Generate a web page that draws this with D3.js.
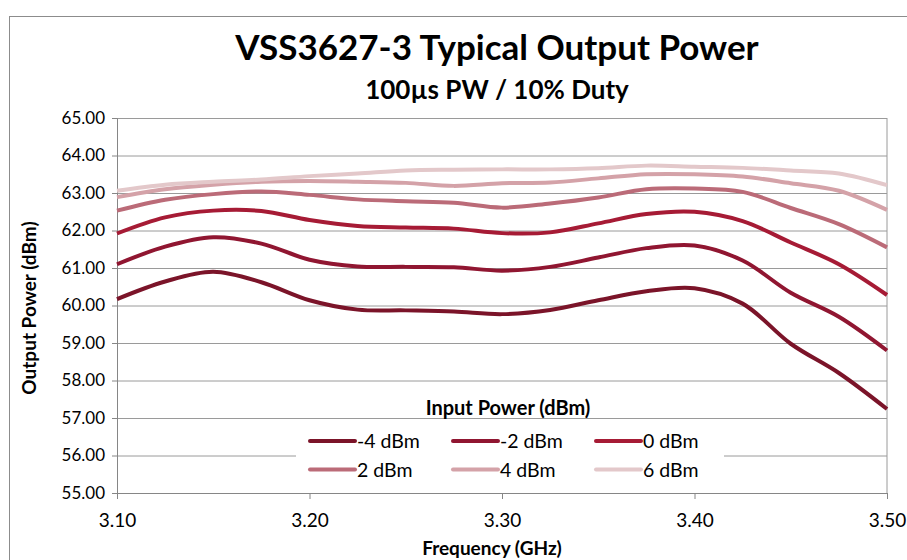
<!DOCTYPE html>
<html>
<head>
<meta charset="utf-8">
<script src="https://cdn.jsdelivr.net/npm/d3@7"></script>
<style>
  body { margin: 0; background: #fff; }
  svg { font-family: Lato, "Open Sans", sans-serif; }
</style>
</head>
<body>
<div id="chart"></div>
<script>
/* VSS3627-3 typical output power vs frequency, one line per input power */

const width = 907, height = 560,
    margin = ({ top: 118, right: 20, bottom: 67, left: 117 });

// data
const freqs = [3.100, 3.125, 3.150, 3.175, 3.200, 3.225, 3.250, 3.275, 3.300,
    3.325, 3.350, 3.375, 3.400, 3.425, 3.450, 3.475, 3.500];
const seriesNames = ["-4 dBm", "-2 dBm", "0 dBm", "2 dBm", "4 dBm", "6 dBm"];
const pinM4 = [60.17, 60.64, 60.90, 60.62, 60.14, 59.89, 59.87, 59.84, 59.77, 59.88, 60.14, 60.38, 60.46, 60.05, 58.98, 58.20, 57.24];
const pinM2 = [61.10, 61.57, 61.82, 61.65, 61.22, 61.04, 61.03, 61.02, 60.93, 61.03, 61.28, 61.53, 61.60, 61.20, 60.34, 59.70, 58.80];
const pin0  = [61.92, 62.35, 62.53, 62.52, 62.28, 62.12, 62.08, 62.05, 61.93, 61.95, 62.19, 62.44, 62.50, 62.25, 61.68, 61.10, 60.28];
const pin2  = [62.53, 62.82, 62.97, 63.04, 62.95, 62.83, 62.78, 62.74, 62.61, 62.72, 62.88, 63.10, 63.12, 63.03, 62.60, 62.17, 61.55];
const pin4  = [62.89, 63.10, 63.22, 63.30, 63.32, 63.30, 63.27, 63.19, 63.26, 63.28, 63.39, 63.50, 63.50, 63.44, 63.26, 63.06, 62.55];
const pin6  = [63.06, 63.22, 63.30, 63.36, 63.45, 63.52, 63.60, 63.62, 63.63, 63.63, 63.66, 63.73, 63.70, 63.67, 63.60, 63.52, 63.21];
const xTicks = [3.10, 3.20, 3.30, 3.40, 3.50];
const yTicks = [55, 56, 57, 58, 59, 60, 61, 62, 63, 64, 65];
const colors = ["#7b1429", "#901631", "#a61b35", "#bb6b78", "#d4a2a8", "#e3c8ca"];

const series = [pinM4, pinM2, pin0, pin2, pin4, pin6].map((vals, i) => ({
    name: seriesNames[i],
    color: colors[i],
    points: vals.map((v, j) => ({ f: freqs[j], p: v }))
}));

const svg = d3.select("#chart")
    .append("svg")
    .attr("width", width)
    .attr("height", height);

// outer chart frame
svg.append("rect")
    .attr("x", 9.5).attr("y", 16.5)
    .attr("width", width).attr("height", height)
    .attr("fill", "none")
    .attr("stroke", "#8c8c8c");

let x = d3.scaleLinear()
    .domain([3.1, 3.5])
    .range([margin.left, 887]);

let y = d3.scaleLinear()
    .domain([55, 65])
    .range([493, margin.top]);

// gridlines
svg.append("g")
    .attr("transform", `translate(${x.range()[0]},0)`)
    .call(d3.axisLeft(y).tickValues(yTicks).tickSize(-(x.range()[1] - x.range()[0])).tickFormat(""))
    .call(g => g.select(".domain").remove())
    .call(g => g.selectAll("line").attr("stroke", "#9a9a9a"));

// right border of plot area
svg.append("line")
    .attr("x1", x.range()[1]).attr("x2", x.range()[1])
    .attr("y1", y(65)).attr("y2", y(55))
    .attr("stroke", "#9a9a9a");

// y axis
svg.append("g")
    .attr("transform", `translate(${x.range()[0]},0)`)
    .call(d3.axisLeft(y).tickValues(yTicks).tickSize(5).tickPadding(7).tickFormat(d3.format(".2f")))
    .call(g => g.select(".domain").attr("stroke", "#868686"))
    .call(g => g.selectAll("line").attr("stroke", "#868686"))
    .call(g => g.selectAll("text").attr("font-size", 17).attr("fill", "#000")
        .style("font-family", "Lato, sans-serif"));

// x axis
svg.append("g")
    .attr("transform", `translate(0,${y(55)})`)
    .call(d3.axisBottom(x).tickValues(xTicks).tickSize(6).tickPadding(15).tickFormat(d3.format(".2f")))
    .call(g => g.select(".domain").attr("stroke", "#868686"))
    .call(g => g.selectAll("line").attr("stroke", "#868686"))
    .call(g => g.selectAll("text").attr("font-size", 19).attr("fill", "#000")
        .style("font-family", "Lato, sans-serif"));

// titles
svg.append("text")
    .attr("x", 497).attr("y", 60)
    .attr("text-anchor", "middle")
    .attr("font-size", 35).attr("font-weight", "bold")
    .text("VSS3627-3 Typical Output Power");

svg.append("text")
    .attr("x", 497).attr("y", 99)
    .attr("text-anchor", "middle")
    .attr("font-size", 26).attr("font-weight", "bold")
    .text("100µs PW / 10% Duty");

svg.append("text")
    .attr("x", 492).attr("y", 555)
    .attr("text-anchor", "middle")
    .attr("font-size", 19).attr("font-weight", "bold")
    .text("Frequency (GHz)");

svg.append("text")
    .attr("transform", "translate(36,308) rotate(-90)")
    .attr("text-anchor", "middle")
    .attr("font-size", 19).attr("font-weight", "bold")
    .text("Output Power (dBm)");

// lines
let line = d3.line()
    .x(d => x(d.f))
    .y(d => y(d.p))
    .curve(d3.curveCatmullRom.alpha(0.5));

svg.append("g")
    .selectAll("path")
    .data(series)
    .join("path")
    .attr("d", d => line(d.points))
    .attr("fill", "none")
    .attr("stroke", d => d.color)
    .attr("stroke-width", 4)
    .attr("stroke-linejoin", "round");

// legend
svg.append("text")
    .attr("x", 508).attr("y", 415)
    .attr("text-anchor", "middle")
    .attr("font-size", 20).attr("font-weight", "bold")
    .text("Input Power (dBm)");

svg.append("rect")
    .attr("x", 296).attr("y", 422)
    .attr("width", 428).attr("height", 67)
    .attr("fill", "#fff");

const legend = svg.append("g")
    .selectAll("g")
    .data(series)
    .join("g")
    .attr("transform", (d, i) => `translate(${310 + (i % 3) * 143},${441 + Math.floor(i / 3) * 28.5})`);

legend.append("line")
    .attr("x1", 0).attr("x2", 45)
    .attr("stroke", d => d.color)
    .attr("stroke-width", 4)
    .attr("stroke-linecap", "round");

legend.append("text")
    .attr("x", 47).attr("y", 7)
    .attr("font-size", 19.5)
    .text(d => d.name);
</script>
</body>
</html>
